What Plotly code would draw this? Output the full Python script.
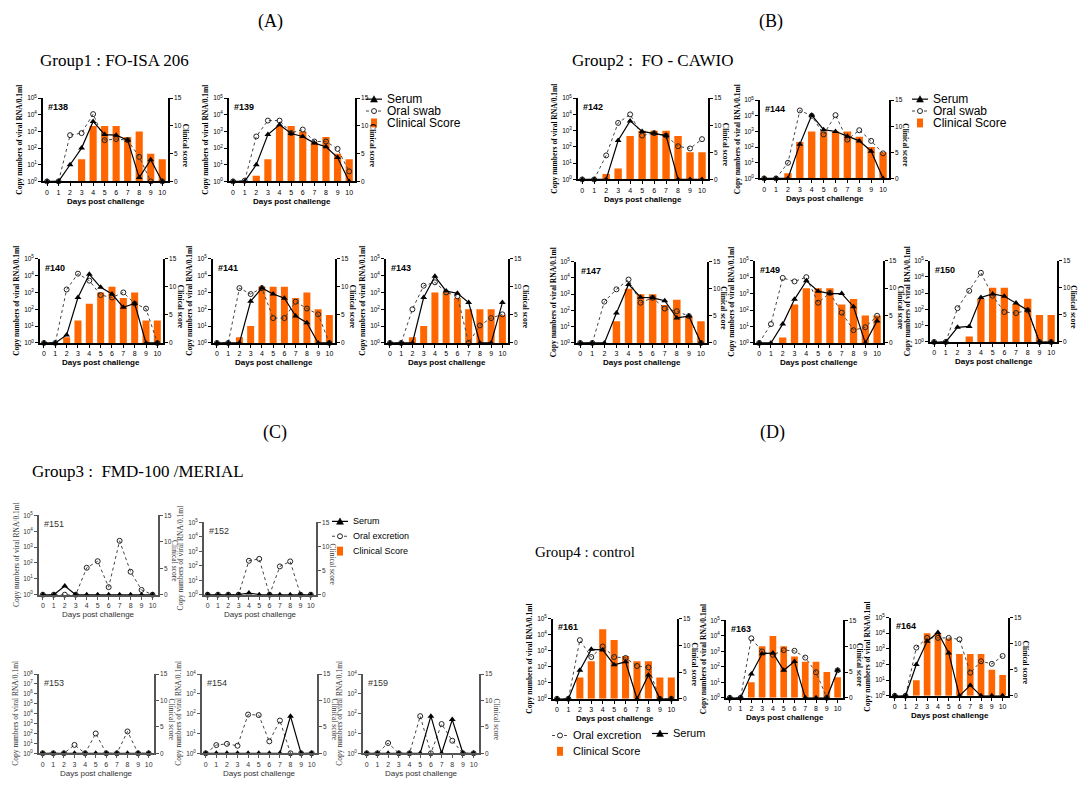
import plotly.graph_objects as go

W, H = 1089, 790
days = list(range(11))

# ---------------- data (copies / 0.1 ml; 1 = baseline / not detected) ----------------
serum_138 = [1, 1, 10, 100, 4000, 650, 600, 300, 1.7, 20, 1]
oral_138 = [1, 1, 600, 800, 11000, 300, 350, 300, 30, 1, 1]
clin_138 = [0, 0, 0, 4, 10, 10, 10, 8, 9, 5, 4]

serum_139 = [1, 1, 10, 650, 2500, 750, 500, 200, 120, 27, 1]
oral_139 = [1, 1.1, 500, 4500, 4500, 800, 1300, 250, 250, 90, 4]
clin_139 = [0, 0, 1, 4, 10, 10, 9, 7, 8, 5, 4]

serum_140 = [1, 1, 3, 500, 12000, 2000, 800, 130, 220, 1, 1]
oral_140 = [1, 1, 1500, 13000, 5000, 700, 500, 1000, 220, 110, 1]
clin_140 = [0, 0, 1, 4, 7, 9, 10, 8, 9, 4, 4]

serum_141 = [1, 1, 1, 300, 1800, 800, 450, 40, 16, 1, 1]
oral_141 = [1, 1, 1800, 800, 1800, 30, 30, 280, 110, 50, 1]
clin_141 = [0, 0, 1, 3, 10, 10, 10, 8, 9, 6, 5]

serum_143 = [1, 1, 1, 500, 9000, 1200, 900, 250, 1, 1, 250]
oral_143 = [1, 1, 100, 2500, 4000, 1000, 600, 1, 11, 30, 50]
clin_143 = [0, 0, 1, 3, 9, 9, 8, 6, 6, 6, 5]

serum_142 = [1, 1, 1, 250, 4000, 900, 700, 500, 1, 1, 1]
oral_142 = [1, 1, 30, 3000, 10000, 500, 700, 500, 110, 80, 300]
clin_142 = [0, 0, 1, 2, 8, 9, 9, 9, 8, 5, 5]

serum_144 = [1, 1, 1, 150, 11000, 1300, 1000, 500, 250, 55, 1]
oral_144 = [1, 1, 10, 22000, 10000, 650, 11000, 300, 1200, 250, 40]
clin_144 = [0, 0, 1, 7, 9, 9, 9, 9, 8, 6, 5]

serum_147 = [1, 1, 1, 70, 4000, 650, 600, 400, 35, 45, 1]
oral_147 = [1, 1, 350, 2000, 8000, 300, 600, 130, 90, 45, 1]
clin_147 = [0, 0, 0, 4, 10, 9, 9, 7, 8, 5, 4]

serum_149 = [1, 1, 14, 450, 6000, 1400, 1000, 1000, 160, 1, 22]
oral_149 = [1, 14, 9000, 5500, 10000, 280, 1100, 70, 6, 9, 45]
clin_149 = [0, 0, 1, 7, 10, 10, 10, 7, 8, 5, 5]

serum_150 = [1, 1, 8, 9, 550, 900, 650, 250, 90, 1, 1]
oral_150 = [1, 1, 120, 1400, 18000, 700, 70, 60, 90, 1, 1]
clin_150 = [0, 0, 0, 1, 8, 10, 10, 7, 8, 5, 5]

serum_151 = [1, 1, 3.5, 1, 1, 1, 1, 1, 1, 1, 1]
oral_151 = [1, 1, 1, 1, 50, 130, 3, 2500, 28, 2, 1]
clin_151 = [0] * 11

serum_152 = [1, 1, 1, 1, 1.3, 1, 1, 1, 1, 1, 1]
oral_152 = [1, 1, 1, 1, 220, 300, 1, 90, 200, 1, 1]
clin_152 = [0] * 11

serum_153 = [1, 1, 1, 1, 1, 1, 1, 1, 1, 1, 1]
oral_153 = [1, 1, 1, 7, 1, 100, 1, 1, 160, 1, 1]
clin_153 = [0] * 11

serum_154 = [1, 1, 1, 1, 1, 1, 1, 1, 75, 1, 1]
oral_154 = [1, 2.6, 3, 2.4, 90, 85, 4, 45, 1, 1, 1]
clin_154 = [0] * 11

serum_159 = [1, 1, 1, 1, 1, 1, 75, 1, 50, 1, 1]
oral_159 = [1, 1, 3.3, 1, 1, 75, 1, 30, 4.3, 1, 1]
clin_159 = [0] * 11

serum_161 = [1, 1, 60, 1200, 1100, 130, 200, 1, 30, 1, 1]
oral_161 = [1, 1, 4500, 400, 1800, 400, 350, 110, 90, 1, 1]
clin_161 = [0, 0, 4, 7, 13, 11, 8, 7, 7, 4, 4]

serum_163 = [1, 1, 35, 700, 800, 60, 220, 1, 1, 1, 60]
oral_163 = [1, 1, 7000, 1000, 600, 1200, 1100, 400, 45, 1, 60]
clin_163 = [0, 0, 3, 10, 12, 10, 8, 7, 7, 5, 4]

serum_164 = [1, 1, 100, 3000, 11000, 550, 1, 4.7, 1, 1, 1]
oral_164 = [1, 1, 1200, 5000, 5000, 5000, 4000, 30, 160, 110, 350]
clin_164 = [0, 0, 3, 12, 12, 11, 8, 8, 8, 5, 4]

# ---------------- panel layout (pixel boxes: left, right, top, bottom) ----------------
panels = [
    ("#138", serum_138, oral_138, clin_138, (43, 168, 95, 179), 5, "A"),
    ("#139", serum_139, oral_139, clin_139, (229, 355, 95, 179), 5, "A"),
    ("#140", serum_140, oral_140, clin_140, (40, 163, 257, 342), 5, "A"),
    ("#141", serum_141, oral_141, clin_141, (213, 335, 257, 342), 5, "A"),
    ("#143", serum_143, oral_143, clin_143, (386, 508, 257, 342), 5, "A"),
    ("#142", serum_142, oral_142, clin_142, (578, 708, 95, 177), 5, "B"),
    ("#144", serum_144, oral_144, clin_144, (760, 889, 97, 176), 5, "B"),
    ("#147", serum_147, oral_147, clin_147, (576, 707, 260, 342), 5, "B"),
    ("#149", serum_149, oral_149, clin_149, (755, 883, 259, 342), 5, "B"),
    ("#150", serum_150, oral_150, clin_150, (930, 1057, 259, 341), 5, "B"),
    ("#151", serum_151, oral_151, clin_151, (39, 158, 516, 596), 5, "C"),
    ("#152", serum_152, oral_152, clin_152, (204, 316, 523, 596), 5, "C"),
    ("#153", serum_153, oral_153, clin_153, (39, 154, 676, 756), 8, "C"),
    ("#154", serum_154, oral_154, clin_154, (202, 317, 676, 756), 4, "C"),
    ("#159", serum_159, oral_159, clin_159, (363, 479, 676, 756), 4, "C"),
    ("#161", serum_161, oral_161, clin_161, (553, 677, 620, 701), 5, "D"),
    ("#163", serum_163, oral_163, clin_163, (726, 843, 622, 700), 5, "D"),
    ("#164", serum_164, oral_164, clin_164, (891, 1008, 619, 698), 5, "D"),
]

ORANGE = "#FF6600"
SANS = "Liberation Sans"
SERIF = "Liberation Serif"

fig = go.Figure()
layout = {}
annotations = []
shapes = []


def px(x):
    return x / W


def py(y):
    return 1 - y / H


def sup(k):
    return "10<sup>%d</sup>" % k


for i, (pid, serum, oral, clin, box, dec, grp) in enumerate(panels):
    n = i + 1
    xname = "x" if n == 1 else f"x{n}"
    bidx, oidx = 2 * n - 1, 2 * n
    ybase = "y" if bidx == 1 else f"y{bidx}"
    yover = f"y{oidx}"
    L, R, T, B = box
    xd = [px(L), px(R)]
    yd = [py(B), py(T)]
    lc = "#000000" if grp != "C" else "#555555"
    tc = "#000000" if grp != "C" else "#333333"
    tickfont = dict(family=SANS, size=6.5, color=tc)

    layout["xaxis" if n == 1 else f"xaxis{n}"] = dict(
        domain=xd, anchor=ybase, range=[-0.35, 10.5], tickvals=days,
        showline=True, linecolor=lc, linewidth=1.6, ticks="outside", ticklen=3,
        tickcolor=lc, tickfont=dict(family=SANS, size=7, color=tc),
        showgrid=False, zeroline=False, fixedrange=True)
    layout["yaxis" if bidx == 1 else f"yaxis{bidx}"] = dict(
        domain=yd, anchor=xname, side="right", range=[0, 15], tickvals=[0, 5, 10, 15],
        showline=True, linecolor=lc, linewidth=1.6, ticks="outside", ticklen=3,
        tickcolor=lc, tickfont=tickfont, showgrid=False, zeroline=False)
    layout[f"yaxis{oidx}"] = dict(
        overlaying=ybase, anchor=xname, side="left", type="log", range=[0, dec],
        tickvals=[10 ** k for k in range(dec + 1)], ticktext=[sup(k) for k in range(dec + 1)],
        showline=True, linecolor=lc, linewidth=1.6, ticks="outside", ticklen=3,
        tickcolor=lc, tickfont=tickfont, showgrid=False, zeroline=False)

    fig.add_trace(go.Bar(
        x=days, y=clin, xaxis=xname, yaxis=ybase, width=0.62,
        marker=dict(color=ORANGE, line=dict(width=0)),
        name="Clinical Score", showlegend=False))
    fig.add_trace(go.Scatter(
        x=days, y=oral, xaxis=xname, yaxis=yover, mode="lines+markers",
        line=dict(color="#444444", width=1, dash="dot"),
        marker=dict(symbol="circle-open", size=5, color="#222222", line=dict(width=1)),
        name="Oral", showlegend=False, cliponaxis=False))
    fig.add_trace(go.Scatter(
        x=days, y=serum, xaxis=xname, yaxis=yover, mode="lines+markers",
        line=dict(color="#000000", width=1.2),
        marker=dict(symbol="triangle-up", size=6, color="#000000"),
        name="Serum", showlegend=False, cliponaxis=False))

    bold = grp != "C"
    annotations.append(dict(
        text=f"<b>{pid}</b>" if bold else pid, xref="paper", yref="paper",
        x=px(L + 3), y=py(T + 2), xanchor="left", yanchor="top", showarrow=False,
        font=dict(family=SANS, size=9, color=tc)))
    annotations.append(dict(
        text="<b>Copy numbers of viral RNA/0.1ml</b>" if bold else "Copy numbers of viral RNA/0.1ml",
        xref="paper", yref="paper", x=px(L - 23), y=py((T + B) / 2),
        xanchor="center", yanchor="middle", textangle=-90, showarrow=False,
        font=dict(family=SERIF, size=7.5, color=tc)))
    annotations.append(dict(
        text="<b>Clinical score</b>" if bold else "Clinical score",
        xref="paper", yref="paper", x=px(R + 17), y=py((T + B) / 2 + 6),
        xanchor="center", yanchor="middle", textangle=90, showarrow=False,
        font=dict(family=SERIF, size=7.5, color=tc)))
    annotations.append(dict(
        text="<b>Days post challenge</b>" if bold else "Days post challenge",
        xref="paper", yref="paper", x=px((L + R) / 2), y=py(B + 20),
        xanchor="center", yanchor="middle", showarrow=False,
        font=dict(family=SANS, size=8, color=tc)))

titles = [
    ("(A)", 270, 18, 18), ("(B)", 771, 18, 18), ("(C)", 275, 432, 18), ("(D)", 772, 432, 18),
    ("Group1 : FO-ISA 206", 38, 57, 17), ("Group2 :  FO - CAWIO", 570, 57, 17),
    ("Group3 :  FMD-100 /MERIAL", 30, 472, 17), ("Group4 : control", 533, 553, 15),
]
for txt, x, y, s in titles:
    annotations.append(dict(
        text=txt, xref="paper", yref="paper", x=px(x), y=py(y),
        xanchor=("center" if txt.startswith("(") else "left"), yanchor="middle",
        showarrow=False, font=dict(family=SERIF, size=s, color="#000000")))


# ---------------- hand-drawn legends ----------------
def legend_item(kind, cx, cy, text, fs):
    if kind in ("serum", "oral"):
        shapes.append(dict(type="line", xref="paper", yref="paper",
                           x0=px(cx - 8), x1=px(cx + 8), y0=py(cy), y1=py(cy),
                           line=dict(color="#000000" if kind == "serum" else "#444444",
                                     width=1.2 if kind == "serum" else 1,
                                     dash="solid" if kind == "serum" else "dot")))
    if kind == "serum":
        path = "M %f %f L %f %f L %f %f Z" % (px(cx - 3.5), py(cy + 3), px(cx + 3.5), py(cy + 3),
                                              px(cx), py(cy - 3.5))
        shapes.append(dict(type="path", xref="paper", yref="paper", path=path,
                           fillcolor="#000000", line=dict(color="#000000", width=0.5)))
    elif kind == "oral":
        shapes.append(dict(type="circle", xref="paper", yref="paper",
                           x0=px(cx - 2.5), x1=px(cx + 2.5), y0=py(cy + 2.5), y1=py(cy - 2.5),
                           fillcolor="white", line=dict(color="#222222", width=1)))
    else:
        shapes.append(dict(type="rect", xref="paper", yref="paper",
                           x0=px(cx - 3), x1=px(cx + 3), y0=py(cy + 4.5), y1=py(cy - 4.5),
                           fillcolor=ORANGE, line=dict(width=0)))
    annotations.append(dict(text=text, xref="paper", yref="paper", x=px(cx + 11), y=py(cy),
                            xanchor="left", yanchor="middle", showarrow=False,
                            font=dict(family=SANS, size=fs, color="#000000")))


for cx in (374, 920):
    legend_item("serum", cx, 96, "Serum", 12)
    legend_item("oral", cx, 108, "Oral swab", 12)
    legend_item("clin", cx, 120, "Clinical Score", 12)

legend_item("serum", 340, 522, "Serum", 9)
legend_item("oral", 340, 537, "Oral excretion", 9)
legend_item("clin", 340, 552, "Clinical Score", 9)

legend_item("oral", 560, 738, "Oral excretion", 11)
legend_item("serum", 660, 736, "Serum", 11)
legend_item("clin", 560, 754, "Clinical Score", 11)

layout.update(
    width=W, height=H, margin=dict(l=0, r=0, t=0, b=0),
    paper_bgcolor="white", plot_bgcolor="white", barmode="overlay",
    annotations=annotations, shapes=shapes, showlegend=False,
)
fig.update_layout(**layout)
fig.write_html("out.html")
